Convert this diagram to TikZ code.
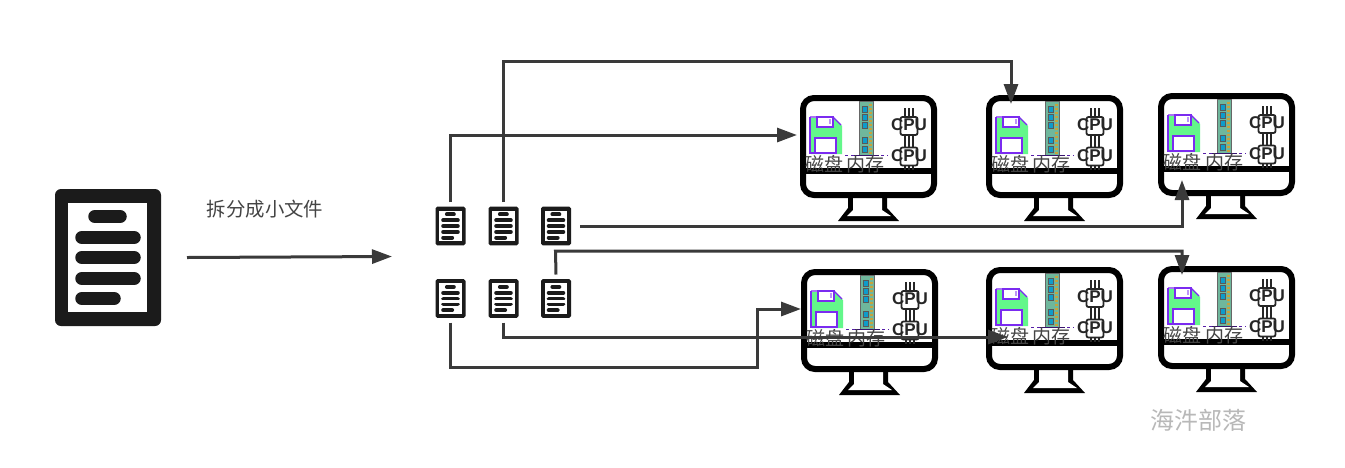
\documentclass[tikz,border=0pt]{standalone}
\usepackage{fontspec}
\setmainfont{Liberation Sans}
\newfontfamily\cjk{Noto Sans CJK SC}
\usetikzlibrary{arrows.meta,calc}
\definecolor{conncol}{HTML}{3A3A3A}
\definecolor{docblack}{HTML}{1B1B1B}
\definecolor{floppygreen}{HTML}{63F78A}
\definecolor{floppypurple}{HTML}{7B2BF0}
\definecolor{ramboard}{HTML}{6FB79C}
\definecolor{ramchip}{HTML}{0E9CCB}
\definecolor{ramgold}{HTML}{C9A23A}
\definecolor{cnlabel}{HTML}{444444}
\tikzset{
  x=1pt,y=-1pt,
  conn/.style={draw=conncol,line width=3pt,line join=miter,-{Triangle[length=20pt,width=14pt]}},
  docnode/.style={minimum width=30pt,minimum height=36pt,inner sep=0pt,outer sep=6pt},
  bignode/.style={minimum width=106pt,minimum height=137pt,inner sep=0pt,outer sep=0pt},
  monnode/.style={minimum width=137pt,minimum height=103pt,inner sep=0pt,outer sep=0pt},
  cpulabel/.style={font=\bfseries\fontsize{17}{17}\selectfont,text=black!85,inner sep=0pt},
  cnlab/.style={font=\cjk\fontsize{19}{19}\selectfont,text=cnlabel,inner sep=0pt},
  doc/.pic={
    \fill[docblack,even odd rule,rounded corners={#1*6pt}] (-53,-68.5) rectangle (53,68.5);
    \fill[white] (-40,-54.5) rectangle (39,54.5);
    \draw[docblack,line cap=round,line width={#1*13.5pt}]
      (-13,-41) -- (12,-41) (-26,-20) -- (26,-20) (-26,0) -- (26,0)
      (-26,21) -- (26,21) (-26,41) -- (6,41);
  },
  cpu/.pic={
    \draw[black!85,line width=1.8pt,rounded corners=2pt] (-8,-9) rectangle (9,9);
    \draw[black!85,line width=1.4pt]
      (-3.5,-9) -- (-3.5,-18) (.5,-9) -- (.5,-18) (4.5,-9) -- (4.5,-18)
      (-3.5,9) -- (-3.5,13.5) (.5,9) -- (.5,13.5) (4.5,9) -- (4.5,13.5);
    \node[cpulabel] at (0.5,-1) {CPU};
  },
  monitor/.pic={
    % stand
    \fill[black] (48,103) -- (48,113) -- (38,126) -- (99,126) -- (87,113) -- (87,103) -- cycle;
    \fill[white] (53,103) -- (53,115) -- (47,121) -- (91,121) -- (82,115) -- (82,103) -- cycle;
    % frame
    \draw[black,fill=white,line width=6pt,rounded corners=11pt] (3,3) rectangle (134,100);
    \fill[black] (3,73) rectangle (134,79);
    % floppy
    \fill[floppygreen] (11,23) -- (34,23) -- (42,31) -- (42,59) -- (11,59) -- cycle;
    \draw[floppypurple,line width=1.1pt] (10,22) -- (33,22) -- (41,30);
    \draw[floppypurple,line width=1.1pt] (10,22) -- (10,58) -- (15,58);
    \draw[floppypurple,fill=white,line width=1.1pt] (17,22) rectangle (33,32);
    \fill[floppypurple!50] (29,24) rectangle (31,29);
    \draw[floppypurple,fill=white,line width=1.1pt] (15,43) rectangle (36,58);
    % ram
    \fill[ramboard] (59,6) rectangle (73,60);
    \draw[black!60,line width=.5pt] (59,6) rectangle (73,60);
    \foreach \yy in {11,19,27,42,51}{
      \draw[fill=ramchip,draw=black!65,line width=.5pt] (62,\yy) rectangle (67,\yy+6.5);
    }
    \foreach \yy in {9,13,...,57}{
      \fill[ramgold] (68.5,\yy) rectangle (72,\yy+1.5);
    }
    \draw[floppypurple!70!black,line width=1pt,dash pattern=on 3pt off 3pt] (45,60.5) -- (88,60.5);
    \draw[floppypurple!45!black,line width=1.3pt] (54,60.5) -- (79,60.5);
    % cpus
    \pic at (108.5,31) {cpu};
    \pic at (108.5,61.5) {cpu};
    % labels
    \node[cnlab,anchor=center] at (45,69) {磁盘\hspace{4pt}内存};
  },
}
\begin{document}
\begin{tikzpicture}
\useasboundingbox[fill=white] (0,0) rectangle (1345,467);

\node[bignode] (bigdoc) at (108,257.5) {};
\pic at (bigdoc) {doc=1};

\node[docnode] (f1) at (450.5,226) {};
\node[docnode] (f2) at (503.5,226) {};
\node[docnode] (f3) at (556,226) {};
\node[docnode] (f4) at (450.5,298.5) {};
\node[docnode] (f5) at (503.5,298.5) {};
\node[docnode] (f6) at (556,298.5) {};
\foreach \f in {f1,f2,f3,f4,f5,f6}{ \pic[scale=.283] at (\f) {doc=.283}; }

\node[monnode] (m1) at (868.5,146.5) {};
\node[monnode] (m2) at (1054.5,146.5) {};
\node[monnode] (m3) at (1226.5,144.5) {};
\node[monnode] (m4) at (869.5,320.5) {};
\node[monnode] (m5) at (1054.5,318.5) {};
\node[monnode] (m6) at (1226.5,317.5) {};
\foreach \m in {m1,m2,m3,m4,m5,m6}{ \pic at (\m.north west) {monitor}; }

\node[font=\cjk\fontsize{19.4}{19.4}\selectfont,text=cnlabel,inner sep=0pt] (split) at (265,209) {拆分成小文件};
\node[font=\cjk\fontsize{24}{24}\selectfont,text=black!28,inner sep=0pt] (brand) at (1198,420) {海汼部落};

\coordinate (splitend) at (392,256.5);
\draw[conn] ($(bigdoc.east)+(26,0)$) -- (splitend);

\coordinate (e1) at ($(m1.north west)+(-3,40)$);
\coordinate (e2) at ($(m2.north west)+(25,9)$);
\coordinate (e3) at ($(m3.north west)+(24,87)$);
\coordinate (e6) at ($(m6.north west)+(24,9)$);
\coordinate (e4) at ($(m4.north west)+(0,40)$);
\coordinate (e5) at ($(m5.north west)+(22,70)$);
\coordinate (h2) at (503.5,61);
\coordinate (h4a) at (450.5,367);
\coordinate (h4b) at (757,367);
\coordinate (h5) at (503.5,337);
\coordinate (h6) at (555.5,251);

\draw[conn] (f1.north) |- (e1);
\draw[conn] (f2.north) -- (h2) -| (e2);
\draw[conn,shorten <=3pt] (f3.east) -| (e3);
\draw[conn] (f6.north) -- (h6) -| (e6);
\draw[conn] (f4.south) -- (h4a) -- (h4b) |- (e4);
\draw[conn] (f5.south) -- (h5) -- (e5);
\end{tikzpicture}
\end{document}
